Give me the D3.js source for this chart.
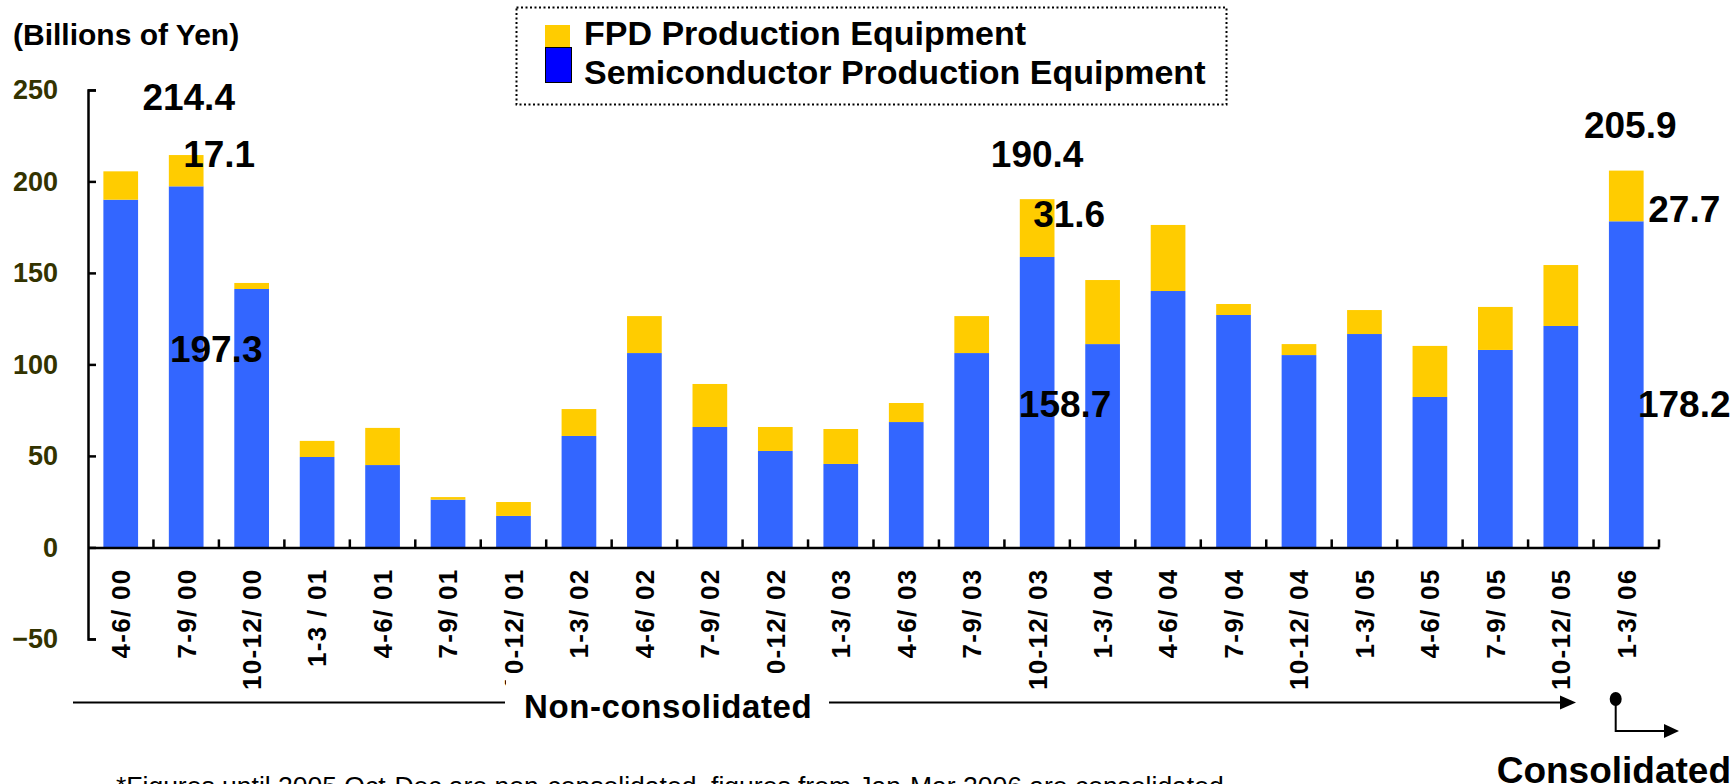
<!DOCTYPE html>
<html>
<head>
<meta charset="utf-8">
<script src="https://cdn.jsdelivr.net/npm/d3@7"></script>
<style>
body { margin: 0; background: #fff; }
svg text { font-family: "Liberation Sans", Arial, sans-serif; font-weight: bold; }
</style>
</head>
<body>
<svg id="chart" width="1733" height="784"></svg>
<script>
// quarters shown on the x axis
var quarters = ["4-6/ 00", "7-9/ 00", "10-12/ 00", "1-3 / 01", "4-6/ 01", "7-9/ 01", "10-12/ 01",
    "1-3/ 02", "4-6/ 02", "7-9/ 02", "10-12/ 02", "1-3/ 03", "4-6/ 03", "7-9/ 03", "10-12/ 03",
    "1-3/ 04", "4-6/ 04", "7-9/ 04", "10-12/ 04", "1-3/ 05", "4-6/ 05", "7-9/ 05", "10-12/ 05", "1-3/ 06"];

// billions of yen
var semiconductor = [190.0, 197.3, 141.2, 49.4, 45.0, 26.1, 17.2, 60.9, 106.2, 65.8, 52.7, 45.6,
    68.5, 106.2, 158.7, 111.1, 140.1, 127.0, 105.1, 116.6, 82.2, 107.9, 121.0, 178.2];
var fpd = [15.5, 17.1, 3.3, 8.8, 20.3, 1.4, 7.6, 14.7, 20.2, 23.5, 13.1, 19.1,
    10.4, 20.2, 31.6, 35.0, 36.1, 6.0, 6.0, 13.1, 27.9, 23.5, 33.3, 27.7];

var yTicks = [-50, 0, 50, 100, 150, 200, 250];

var seriesNames = ["FPD Production Equipment", "Semiconductor Production Equipment"];

var width = 1733, height = 784;
var svg = d3.select("#chart");
svg.append("rect").attr("width", width).attr("height", height).attr("fill", "#fff");

var x = d3.scaleBand()
    .domain(quarters)
    .range([88, 1659])
    .paddingInner(0.47)
    .paddingOuter(0.235);

var y = d3.scaleLinear()
    .domain([-50, 250])
    .range([638.9, 89.9]);

var rows = quarters.map(function(q, i) {
    return {quarter: q, semi: semiconductor[i], fpd: fpd[i]};
});

var stack = d3.stack().keys(["semi", "fpd"]);
var layers = stack(rows);
var colors = {semi: "#3366ff", fpd: "#ffcc00"};

svg.append("g").selectAll("g")
    .data(layers)
    .enter().append("g")
    .attr("fill", function(d) { return colors[d.key]; })
    .selectAll("rect")
    .data(function(d) { return d; })
    .enter().append("rect")
    .attr("x", function(d) { return x(d.data.quarter); })
    .attr("width", x.bandwidth())
    .attr("y", function(d) { return y(d[1]); })
    .attr("height", function(d) { return y(d[0]) - y(d[1]); });

// y axis, ticks point into the plot
var yAxis = svg.append("g")
    .attr("transform", "translate(88,0)")
    .call(d3.axisLeft(y).tickValues(yTicks).tickSize(-8).tickPadding(30));
yAxis.select(".domain").attr("stroke", "#000").attr("stroke-width", 2.5);
yAxis.selectAll(".tick line").attr("stroke", "#000").attr("stroke-width", 2.5);
yAxis.selectAll(".tick text")
    .attr("fill", "#333300")
    .style("font-size", "27px")
    .style("font-family", "'Liberation Sans', Arial, sans-serif")
    .style("font-weight", "bold");

// x axis at zero
var xAxis = svg.append("g")
    .attr("transform", "translate(0," + y(0) + ")")
    .call(d3.axisBottom(x).tickSize(0).tickPadding(0));
xAxis.select(".domain").attr("stroke", "#000").attr("stroke-width", 2.5);
xAxis.selectAll(".tick text")
    .attr("transform", "rotate(-90)")
    .attr("text-anchor", "end")
    .attr("x", -21)
    .attr("y", 0)
    .attr("dy", "0.36em")
    .attr("fill", "#000")
    .style("font-size", "26px")
    .style("letter-spacing", "1.3px")
    .style("font-family", "'Liberation Sans', Arial, sans-serif")
    .style("font-weight", "bold");

// tick marks between the bars
var bounds = quarters.slice(1).map(function(q) { return x(q) - x.step() * x.paddingInner() / 2; });
bounds.push(x.range()[1]);
xAxis.selectAll(".sep")
    .data(bounds)
    .enter().append("line")
    .attr("class", "sep")
    .attr("x1", function(d) { return d; })
    .attr("x2", function(d) { return d; })
    .attr("y1", 0)
    .attr("y2", -8)
    .attr("stroke", "#000")
    .attr("stroke-width", 2.5);

// unit label
svg.append("text")
    .attr("x", 13).attr("y", 45)
    .style("font-size", "30px")
    .text("(Billions of Yen)");

// value call-outs
var centre = function(i) { return x(quarters[i]) + x.bandwidth() / 2; };
var total = function(i) { return semiconductor[i] + fpd[i]; };
var callouts = [
    {i: 1, text: "214.4", anchor: "middle", dx: 2.5, ref: "total", dy: -45},
    {i: 1, text: "17.1", anchor: "start", dx: -3, ref: "total", dy: 11.7},
    {i: 1, text: "197.3", anchor: "middle", dx: 30, ref: "semi", dy: 175.7},
    {i: 14, text: "190.4", anchor: "middle", dx: 0, ref: "total", dy: -32},
    {i: 14, text: "31.6", anchor: "start", dx: -4, ref: "total", dy: 28},
    {i: 14, text: "158.7", anchor: "middle", dx: 28, ref: "semi", dy: 160},
    {i: 23, text: "205.9", anchor: "middle", dx: 4, ref: "total", dy: -32.6},
    {i: 23, text: "27.7", anchor: "middle", dx: 58, ref: "total", dy: 51},
    {i: 23, text: "178.2", anchor: "middle", dx: 58, ref: "semi", dy: 195.4}
];
svg.append("g").selectAll("text")
    .data(callouts)
    .enter().append("text")
    .attr("x", function(d) { return centre(d.i) + d.dx; })
    .attr("y", function(d) {
        var v = d.ref == "total" ? total(d.i) : semiconductor[d.i];
        return y(v) + d.dy;
    })
    .attr("text-anchor", function(d) { return d.anchor; })
    .style("font-size", "37px")
    .text(function(d) { return d.text; });

// legend
var legend = svg.append("g");
legend.append("rect")
    .attr("x", 516.5).attr("y", 7.5)
    .attr("width", 710).attr("height", 97)
    .attr("fill", "none")
    .attr("stroke", "#000")
    .attr("stroke-width", 2)
    .attr("stroke-dasharray", "2,2.5");
legend.append("rect")
    .attr("x", 545).attr("y", 25).attr("width", 25).attr("height", 22)
    .attr("fill", "#ffcc00");
legend.append("rect")
    .attr("x", 545.5).attr("y", 47.5).attr("width", 26).attr("height", 35)
    .attr("fill", "#0000ff").attr("stroke", "#000").attr("stroke-width", 1);
legend.selectAll(".lab")
    .data(seriesNames)
    .enter().append("text")
    .attr("class", "lab")
    .attr("x", 584)
    .attr("y", function(d, i) { return 45 + i * 39; })
    .style("font-size", "34px")
    .text(function(d) { return d; });

// non-consolidated / consolidated markers
var lineY = 702.5;
var note = svg.append("g");
note.append("rect")
    .attr("x", 506).attr("y", 673).attr("width", 322).attr("height", 50)
    .attr("fill", "#fff");
note.append("line")
    .attr("x1", 73).attr("x2", 505).attr("y1", lineY).attr("y2", lineY)
    .attr("stroke", "#000").attr("stroke-width", 2);
note.append("line")
    .attr("x1", 829).attr("x2", 1566).attr("y1", lineY).attr("y2", lineY)
    .attr("stroke", "#000").attr("stroke-width", 2);
note.append("path")
    .attr("d", "M1560," + (lineY - 7) + "L1576," + lineY + "L1560," + (lineY + 7) + "Z")
    .attr("fill", "#000");
note.append("text")
    .attr("x", 524).attr("y", 718)
    .style("font-size", "33px")
    .style("letter-spacing", "0.6px")
    .text("Non-consolidated");

var cx = 1615.7;
note.append("ellipse")
    .attr("cx", cx).attr("cy", 699).attr("rx", 6).attr("ry", 7)
    .attr("fill", "#000");
note.append("path")
    .attr("d", "M" + cx + ",699V731H1668")
    .attr("fill", "none").attr("stroke", "#000").attr("stroke-width", 2);
note.append("path")
    .attr("d", "M1664,724L1679,731L1664,738Z")
    .attr("fill", "#000");
note.append("text")
    .attr("x", 1731).attr("y", 783)
    .attr("text-anchor", "end")
    .style("font-size", "37px")
    .text("Consolidated");

svg.append("text")
    .attr("x", 116).attr("y", 795)
    .style("font-size", "26.5px")
    .style("font-weight", "normal")
    .text("*Figures until 2005 Oct-Dec are non-consolidated, figures from Jan-Mar 2006 are consolidated.");
</script>
</body>
</html>
